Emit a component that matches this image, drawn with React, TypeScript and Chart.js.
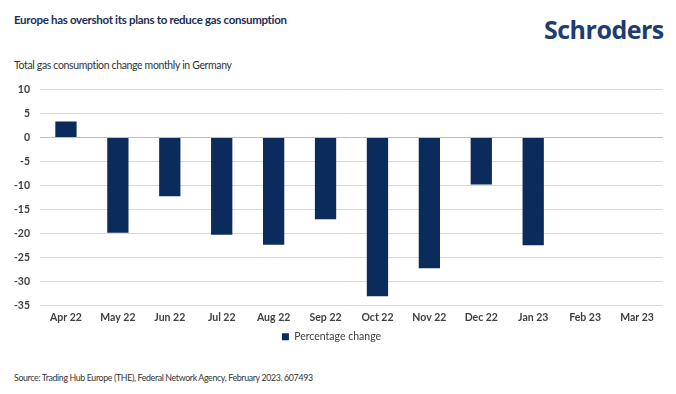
import React, { useEffect, useRef } from "react";
import { Chart, registerables } from "chart.js";

Chart.register(...registerables);

const categories = ["Apr 22", "May 22", "Jun 22", "Jul 22", "Aug 22", "Sep 22", "Oct 22", "Nov 22", "Dec 22", "Jan 23", "Feb 23", "Mar 23"];
const percentageChange: (number | null)[] = [3.3, -19.8, -12.2, -20.2, -22.3, -17.0, -33.0, -27.2, -9.8, -22.4, null, null];
const seriesLabel = "Percentage change";
const yMin = -35;
const yMax = 10;
const yStep = 5;

const NAVY = "#0b2b5c";
const TEXT = "#404040";
const FONT = "Lato, 'Noto Sans', sans-serif";

export default function App() {
  const ref = useRef<HTMLCanvasElement | null>(null);

  useEffect(() => {
    document.body.style.margin = "0";
    const canvas = ref.current;
    if (!canvas) return;
    const chart = new Chart(canvas, {
      type: "bar",
      data: {
        labels: categories,
        datasets: [
          {
            label: seriesLabel,
            data: percentageChange,
            backgroundColor: NAVY,
            borderWidth: 0,
            categoryPercentage: 0.82,
            barPercentage: 0.5,
          },
        ],
      },
      options: {
        animation: false,
        responsive: false,
        maintainAspectRatio: false,
        layout: { padding: { top: 0, right: 13, left: 0, bottom: 2 } },
        plugins: {
          legend: {
            position: "bottom",
            labels: {
              boxWidth: 7,
              boxHeight: 7,
              color: TEXT,
              font: { family: FONT, size: 10.5 },
              padding: 3,
            },
          },
          tooltip: { enabled: false },
        },
        scales: {
          x: {
            grid: { display: false, drawTicks: false },
            border: { display: false },
            ticks: {
              color: TEXT,
              font: { family: FONT, size: 10.5, weight: "bold" },
              padding: 5,
              maxRotation: 0,
              autoSkip: false,
            },
          },
          y: {
            min: yMin,
            max: yMax,
            afterFit: (axis: any) => {
              axis.width = 40;
            },
            grid: {
              color: (ctx: any) => (ctx.tick && ctx.tick.value === 0 ? "#bdbdbd" : "#d9d9d9"),
              lineWidth: 1,
              drawTicks: false,
            },
            border: { display: false },
            ticks: {
              stepSize: yStep,
              color: TEXT,
              font: { family: FONT, size: 10.5, weight: "bold" },
              padding: 10,
            },
          },
        },
      },
    });
    return () => chart.destroy();
  }, []);

  return (
    <div style={{ position: "relative", width: 676, height: 394, background: "#fff", fontFamily: FONT, overflow: "hidden" }}>
      <div style={{ position: "absolute", left: 14, top: 13, fontSize: 11.5, letterSpacing: -0.3, fontWeight: 700, color: "#1d2e55" }}>
        Europe has overshot its plans to reduce gas consumption
      </div>
      <div style={{ position: "absolute", left: 544, top: 12, fontSize: 25, fontWeight: 700, color: "#1d3c70", fontFamily: "'Open Sans', sans-serif", letterSpacing: -0.5 }}>
        Schroders
      </div>
      <div style={{ position: "absolute", left: 14, top: 59, fontSize: 10.5, letterSpacing: -0.35, color: "#333" }}>
        Total gas consumption change monthly in Germany
      </div>
      <canvas ref={ref} width={676} height={281} style={{ position: "absolute", left: 0, top: 73 }} />
      <div style={{ position: "absolute", left: 14, top: 372, fontSize: 8.8, letterSpacing: -0.35, color: "#333" }}>
        Source: Trading Hub Europe (THE), Federal Network Agency, February 2023. 607493
      </div>
    </div>
  );
}
